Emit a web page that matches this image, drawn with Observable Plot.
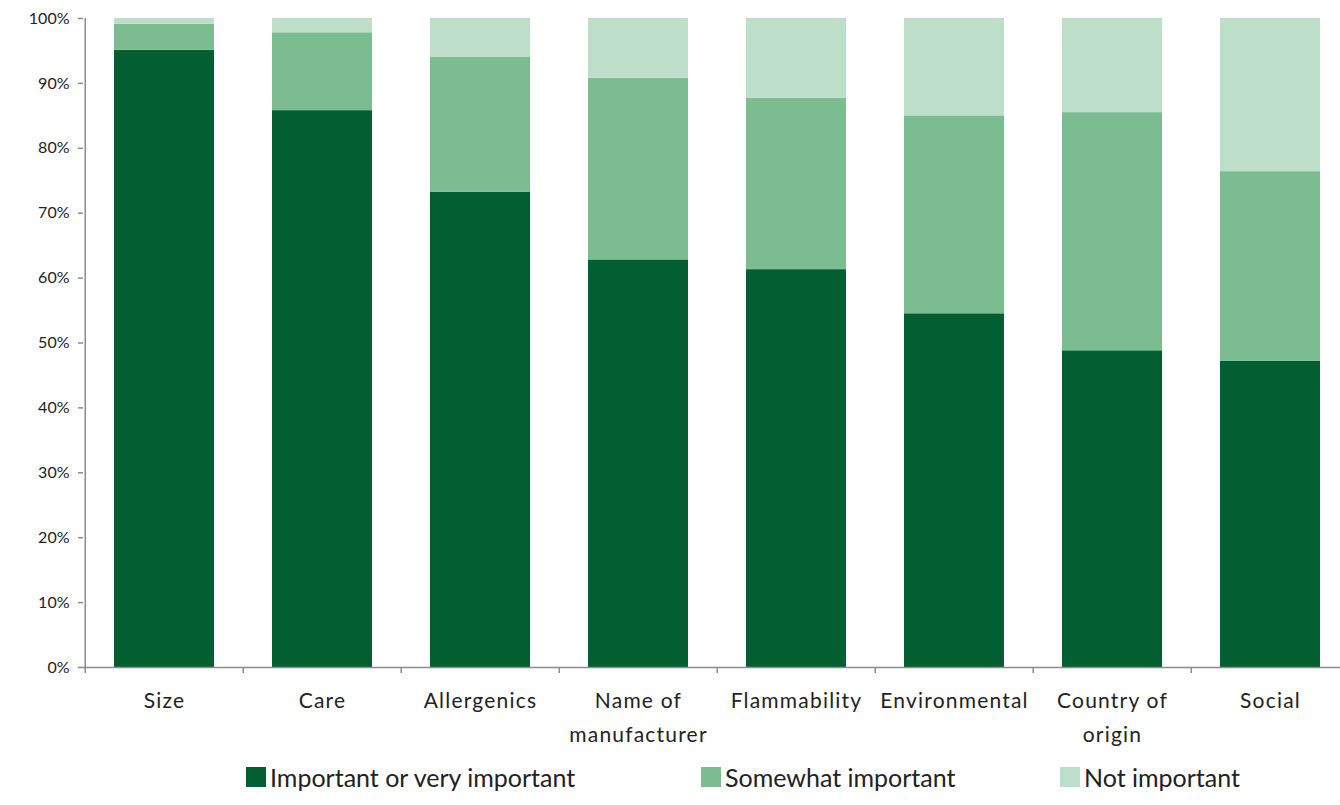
<!DOCTYPE html>
<html>
<head>
<meta charset="utf-8">
<script src="https://cdn.jsdelivr.net/npm/d3@7"></script>
<script src="https://cdn.jsdelivr.net/npm/@observablehq/plot@0.6"></script>
<style>
  html, body { margin: 0; padding: 0; background: #fff; overflow: hidden; }
  body { width: 1340px; height: 805px; font-family: Lato, "Open Sans", sans-serif; }
  #legend { font-family: Lato, sans-serif; font-size: 25px; color: #222; }
  .item { display: flex; align-items: center; position: absolute; }
  .sw { width: 20px; height: 20px; margin-right: 4px; }
  #chart g[aria-label="text"] text { letter-spacing: 1.2px; }
</style>
</head>
<body>
<div id="chart"></div>
<div id="legend"></div>
<script>
const categories = ["Size", "Care", "Allergenics", "Name of\nmanufacturer", "Flammability", "Environmental", "Country of\norigin", "Social"];
const important = [95.1, 85.8, 73.2, 62.8, 61.3, 54.5, 48.8, 47.2];
const somewhat = [4.0, 12.0, 20.8, 28.0, 26.4, 30.5, 36.7, 29.2];
const notImportant = [0.9, 2.2, 6.0, 9.2, 12.3, 15.0, 14.5, 23.6];
const seriesNames = ["Important or very important", "Somewhat important", "Not important"];
const seriesColors = ["#035f32", "#7bbd90", "#bddfca"];
const yTicks = [0, 10, 20, 30, 40, 50, 60, 70, 80, 90, 100];

const rows = [];
categories.forEach((c, i) => {
  rows.push({cat: c, series: seriesNames[0], value: important[i]});
  rows.push({cat: c, series: seriesNames[1], value: somewhat[i]});
  rows.push({cat: c, series: seriesNames[2], value: notImportant[i]});
});

const x0 = 83, x1 = 1351;
const step = (x1 - x0) / categories.length;
const axisColor = "#8c8c8c";

const chart = Plot.plot({
  width: 1340,
  height: 750,
  marginTop: 18,
  marginBottom: 83,
  marginLeft: 83,
  marginRight: 0,
  style: {fontFamily: "Lato, 'Open Sans', sans-serif", fontSize: "16px", color: "#222", background: "#fff"},
  x: {domain: categories, range: [x0, x1], paddingInner: 0.37, paddingOuter: 0.185, axis: null},
  y: {domain: [0, 100], axis: null},
  color: {domain: seriesNames, range: seriesColors},
  marks: [
    Plot.barY(rows, {x: "cat", y: "value", fill: "series", order: seriesNames}),
    Plot.ruleX([categories[0]], {x: d => d, y1: 0, y2: 100, dx: -step / 2, stroke: axisColor, strokeWidth: 1.5}),
    Plot.ruleY([0], {stroke: axisColor, strokeWidth: 1.5}),
    Plot.ruleX(categories, {x: d => d, y1: 0, y2: 0, dx: -step / 2, insetBottom: -6, stroke: axisColor, strokeWidth: 1.5}),
    Plot.axisY(yTicks, {tickSize: 5, tickPadding: 9, tickFormat: d => d + "%", stroke: axisColor, strokeWidth: 1.5, fill: "#222", fontSize: 16, label: null}),
    Plot.text(categories, {x: d => d, y: 0, text: d => d, dy: 17, lineAnchor: "top", lineHeight: 1.6, fontSize: 21, fill: "#222"})
  ]
});
document.getElementById("chart").appendChild(chart);

const legend = document.getElementById("legend");
const lefts = [246, 701, 1060];
seriesNames.forEach((name, i) => {
  const it = document.createElement("div");
  it.className = "item";
  it.style.left = lefts[i] + "px";
  it.style.top = "762px";
  const sw = document.createElement("div");
  sw.className = "sw";
  sw.style.background = seriesColors[i];
  const t = document.createElement("span");
  t.textContent = name;
  it.appendChild(sw);
  it.appendChild(t);
  legend.appendChild(it);
});
</script>
</body>
</html>
